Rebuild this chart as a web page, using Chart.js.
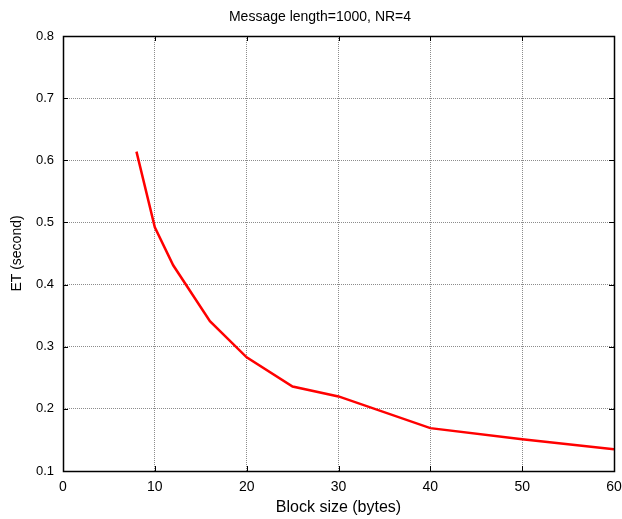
<!DOCTYPE html>
<html>
<head>
<meta charset="utf-8">
<script src="https://cdn.jsdelivr.net/npm/chart.js@4/dist/chart.umd.min.js"></script>
<style>
html,body{margin:0;padding:0;background:#fff;}
#wrap{width:622px;height:519px;}
</style>
</head>
<body>
<div id="wrap"><canvas id="c" width="622" height="519"></canvas></div>
<script>
const blockSizes = [8, 10, 12, 16, 20, 25, 30, 40, 50, 60];
const etSeconds = [0.614, 0.492, 0.431, 0.341, 0.283, 0.236, 0.220, 0.169, 0.151, 0.135];
const chartTitle = 'Message length=1000, NR=4';
const xTitle = 'Block size (bytes)';
const yTitle = 'ET (second)';

const FONT = '"Liberation Sans", Arial, Helvetica, sans-serif';

const boxPlugin = {
  id: 'box',
  afterDraw(chart) {
    const ctx = chart.ctx, a = chart.chartArea;
    const xs = chart.scales.x, ys = chart.scales.y;
    ctx.save();
    ctx.strokeStyle = '#000';
    ctx.lineWidth = 1;
    ctx.setLineDash([]);
    ctx.beginPath();
    const tl = 5;
    xs.ticks.forEach(t => {
      const px = Math.round(xs.getPixelForValue(t.value)) + 0.5;
      ctx.moveTo(px, a.bottom); ctx.lineTo(px, a.bottom - tl);
      ctx.moveTo(px, a.top); ctx.lineTo(px, a.top + tl);
    });
    ys.ticks.forEach(t => {
      const py = Math.round(ys.getPixelForValue(t.value)) + 0.5;
      ctx.moveTo(a.left, py); ctx.lineTo(a.left + tl, py);
      ctx.moveTo(a.right, py); ctx.lineTo(a.right - tl, py);
    });
    ctx.stroke();
    ctx.lineWidth = 1.5;
    ctx.strokeRect(Math.round(a.left) + 0.5, Math.round(a.top) + 0.5,
                   Math.round(a.right - a.left), Math.round(a.bottom - a.top));
    // chart title
    ctx.fillStyle = '#000';
    ctx.font = '14px ' + FONT;
    ctx.textAlign = 'center';
    ctx.textBaseline = 'middle';
    ctx.fillText(chartTitle, 320, 17);
    ctx.restore();
  }
};

new Chart(document.getElementById('c'), {
  type: 'line',
  data: {
    datasets: [{
      data: blockSizes.map((x, i) => ({x: x, y: etSeconds[i]})),
      borderColor: '#ff0000',
      borderWidth: 2.5,
      pointRadius: 0,
      tension: 0,
      fill: false
    }]
  },
  options: {
    responsive: false,
    animation: false,
    layout: {padding: {top: 36, left: 0, right: 0, bottom: 0}},
    plugins: {
      legend: {display: false},
      tooltip: {enabled: false},
      title: {display: false}
    },
    scales: {
      x: {
        type: 'linear',
        min: 0, max: 60,
        afterFit(s) { s.height = 48; s.paddingRight = 8; s.paddingLeft = 0; },
        ticks: {stepSize: 10, color: '#000', padding: 8, maxRotation: 0,
                font: {family: FONT, size: 14}},
        grid: {color: 'rgba(0,0,0,0.45)', lineWidth: 1, drawTicks: false},
        border: {display: false, dash: [1, 1]},
        title: {display: true, text: xTitle, color: '#000',
                font: {family: FONT, size: 16}, padding: {top: 0, bottom: 2}}
      },
      y: {
        type: 'linear',
        min: 0.1, max: 0.8,
        afterFit(s) { s.width = 63; s.paddingTop = 0; },
        ticks: {stepSize: 0.1, color: '#000', padding: 9,
                font: {family: FONT, size: 13},
                callback: v => Number(v).toFixed(1)},
        grid: {color: 'rgba(0,0,0,0.45)', lineWidth: 1, drawTicks: false},
        border: {display: false, dash: [1, 1]},
        title: {display: true, text: yTitle, color: '#000',
                font: {family: FONT, size: 14}, padding: {top: 9, bottom: 0}}
      }
    }
  },
  plugins: [boxPlugin]
});
</script>
</body>
</html>
